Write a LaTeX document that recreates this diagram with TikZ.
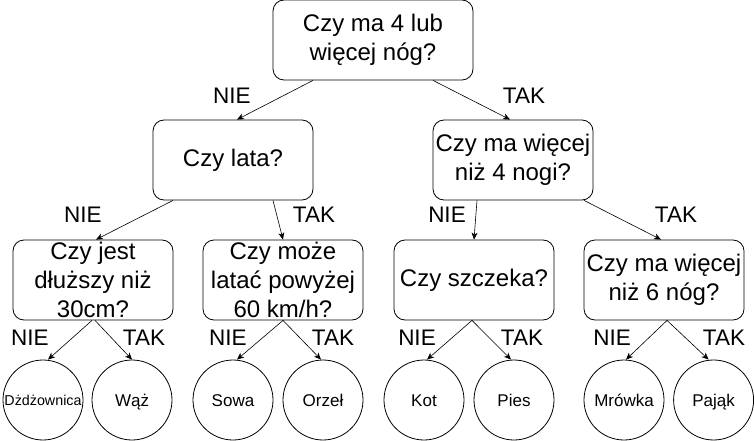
\documentclass[tikz,border=0pt]{standalone}
\usepackage{fontspec}
\setmainfont{Liberation Sans}
\usetikzlibrary{arrows.meta}
\newcommand{\qbtext}[2][160pt]{\parbox[c][80pt][c]{#1}{\centering\fontsize{24}{29}\selectfont #2}}
\tikzset{
  qbox/.style={draw=black, line width=0.8pt, rounded corners=11pt, inner sep=0pt, minimum width=160pt, minimum height=80pt},
  leaf/.style={draw=black, line width=0.8pt, circle, inner sep=0pt, minimum size=80pt, text height=12.2pt, text depth=0pt, font=\fontsize{17}{20}\selectfont},
  lbl/.style={font=\fontsize{22.5}{26}\selectfont, inner sep=0pt},
  arr/.style={-{Stealth[length=7pt,width=6pt,inset=2pt]}, line width=0.6pt}
}
\begin{document}
\begin{tikzpicture}[x=1pt,y=-1pt]
\useasboundingbox (0,0) rectangle (754,441);
% decision boxes
\node[qbox, minimum width=200pt] (root) at (373,40) {\qbtext[200pt]{Czy ma 4 lub\\więcej nóg?}};
\node[qbox] (lata) at (233,160) {\qbtext{Czy lata?}};
\node[qbox] (nogi) at (513,160) {\qbtext{Czy ma więcej\\niż 4 nogi?}};
\node[qbox] (dl) at (93,280) {\qbtext{Czy jest\\dłuższy niż\\30cm?}};
\node[qbox] (lt) at (283,280) {\qbtext{Czy może\\latać powyżej\\60 km/h?}};
\node[qbox] (sz) at (474,280) {\qbtext{Czy szczeka?}};
\node[qbox] (sz6) at (664,280) {\qbtext{Czy ma więcej\\niż 6 nóg?}};
% leaves
\node[leaf, font=\fontsize{14.3}{17}\selectfont, text height=10.2pt] (dz) at (43,400) {Dżdżownica};
\node[leaf] (wz) at (132,400) {Wąż};
\node[leaf] (so) at (233,400) {Sowa};
\node[leaf] (or) at (323,400) {Orzeł};
\node[leaf] (ko) at (424,400) {Kot};
\node[leaf] (pi) at (514,400) {Pies};
\node[leaf] (mr) at (624,400) {Mrówka};
\node[leaf] (pa) at (713.6,400) {Pająk};
% connectors
\draw[arr] ([xshift=-60pt]root.south) -- ([xshift=4pt]lata.north);
\draw[arr] ([xshift=60pt]root.south) -- ([xshift=-3pt]nogi.north);
\draw[arr] ([xshift=-60pt]lata.south) -- ([xshift=3pt]dl.north);
\draw[arr] ([xshift=40pt]lata.south) -- (lt.north);
\draw[arr] ([xshift=-36pt]nogi.south) -- (sz.north);
\draw[arr] ([xshift=71pt]nogi.south) -- ([xshift=-3pt]sz6.north);
\draw[arr] ([xshift=-1pt]dl.south) -- ([xshift=5pt]dz.north);
\draw[arr] ([xshift=2pt]dl.south) -- (wz.north);
\draw[arr] (lt.south) -- ([xshift=4pt]so.north);
\draw[arr] (lt.south) -- ([xshift=-2pt]or.north);
\draw[arr] ([xshift=-2pt]sz.south) -- ([xshift=3pt]ko.north);
\draw[arr] ([xshift=-2pt]sz.south) -- ([xshift=-3pt]pi.north);
\draw[arr] ([xshift=3pt]sz6.south) -- ([xshift=2pt]mr.north);
\draw[arr] ([xshift=3pt]sz6.south) -- ([xshift=-5pt]pa.north);
% edge labels
\node[lbl] (l1) at (232,96) {NIE};
\node[lbl] (l2) at (524,96) {TAK};
\node[lbl] (l3) at (83,215) {NIE};
\node[lbl] (l4) at (314,215) {TAK};
\node[lbl] (l5) at (447,215) {NIE};
\node[lbl] (l6) at (676,215) {TAK};
\node[lbl] (l7) at (30,338) {NIE};
\node[lbl] (l8) at (144,338) {TAK};
\node[lbl] (l9) at (228,338) {NIE};
\node[lbl] (l10) at (333,338) {TAK};
\node[lbl] (l11) at (417,338) {NIE};
\node[lbl] (l12) at (522,338) {TAK};
\node[lbl] (l13) at (612,338) {NIE};
\node[lbl] (l14) at (724,338) {TAK};
\end{tikzpicture}
\end{document}
